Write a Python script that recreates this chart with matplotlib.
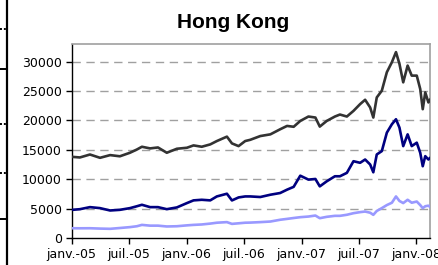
import matplotlib
matplotlib.use("Agg")
import matplotlib.pyplot as plt
import matplotlib.dates as mdates
from matplotlib.lines import Line2D
import numpy as np

# dates of the readings
dates = [
    "2005-01-03", "2005-01-27", "2005-02-28", "2005-04-01", "2005-05-03",
    "2005-06-03", "2005-07-05", "2005-07-27", "2005-08-12", "2005-09-07",
    "2005-10-02", "2005-10-30", "2005-12-01", "2006-01-02", "2006-01-23",
    "2006-02-18", "2006-03-17", "2006-04-07", "2006-05-09", "2006-05-25",
    "2006-06-15", "2006-07-06", "2006-07-22", "2006-08-23", "2006-09-24",
    "2006-10-25", "2006-11-16", "2006-12-07", "2006-12-28", "2007-01-23",
    "2007-02-14", "2007-02-28", "2007-03-22", "2007-04-17", "2007-05-03",
    "2007-05-25", "2007-06-15", "2007-07-06", "2007-07-22", "2007-08-07",
    "2007-08-17", "2007-08-28", "2007-09-13", "2007-09-29", "2007-10-15",
    "2007-10-28", "2007-11-08", "2007-11-20", "2007-12-04", "2007-12-17",
    "2008-01-02", "2008-01-13", "2008-01-21", "2008-01-29", "2008-02-08",
    "2008-02-13",
]

dark_series = [
    13800, 13700, 14200, 13640, 14100, 13900, 14500, 15050, 15520, 15240,
    15400, 14500, 15180, 15350, 15750, 15520, 15920, 16490, 17240, 16090,
    15630, 16490, 16700, 17340, 17630, 18490, 19060, 18920, 19910, 20660,
    20490, 18950, 19910, 20660, 21000, 20660, 21620, 22770, 23510, 22200,
    20490, 23910, 25050, 28200, 29900, 31620, 29620, 26480, 29330, 27620,
    27620, 25340, 21910, 24770, 23060, 23500,
]

navy_series = [
    4790, 4900, 5250, 5080, 4680, 4790, 5080, 5400, 5650, 5250,
    5250, 4900, 5200, 5940, 6400, 6500, 6400, 7070, 7530, 6390,
    6900, 7070, 7070, 6970, 7360, 7650, 8220, 8700, 10600, 9930,
    10040, 8780, 9640, 10500, 10500, 11080, 13060, 12790, 13350, 12500,
    11180, 14210, 14780, 17920, 19350, 20200, 18780, 15630, 17630, 15630,
    16210, 14500, 12210, 13920, 13350, 13600,
]

light_series = [
    1660, 1650, 1660, 1600, 1560, 1700, 1850, 2000, 2230, 2100,
    2100, 1960, 2000, 2150, 2230, 2300, 2450, 2600, 2700, 2400,
    2500, 2600, 2620, 2700, 2800, 3100, 3250, 3400, 3540, 3650,
    3820, 3370, 3600, 3770, 3770, 3950, 4220, 4400, 4500, 4300,
    3940, 4600, 5080, 5600, 6000, 7070, 6300, 5940, 6500, 6000,
    6200, 5600, 5080, 5400, 5500, 5300,
]

tick_dates = ["2005-01-01", "2005-07-01", "2006-01-01", "2006-07-01",
              "2007-01-01", "2007-07-01", "2008-01-01"]
tick_labels = ["janv.-05", "juil.-05", "janv.-06", "juil.-06",
               "janv.-07", "juil.-07", "janv.-08"]
y_ticks = [0, 5000, 10000, 15000, 20000, 25000, 30000]

x = np.array(dates, dtype="datetime64[D]")

fig = plt.figure(figsize=(4.38, 2.65), dpi=100)
ax = fig.add_axes([0.1637, 0.1019, 0.8180, 0.7321])

ax.plot(x, light_series, color="#9999ff", lw=1.9, zorder=3)
ax.plot(x, navy_series, color="#000080", lw=1.9, zorder=4)
ax.plot(x, dark_series, color="#333333", lw=1.9, zorder=5)

ax.set_ylim(0, 33000)
ax.set_xlim(np.datetime64("2005-01-01"), np.datetime64("2008-02-13"))
ax.set_yticks(y_ticks)
ax.set_xticks(np.array(tick_dates, dtype="datetime64[D]"))
ax.set_xticklabels(tick_labels)

for yv in y_ticks[1:]:
    ax.axhline(yv, color="#a0a0a0", lw=1.0, dashes=(6, 4), zorder=1)

ax.tick_params(direction="out", length=4, width=1, pad=3,
               labelsize=9, colors="black")
for side in ["top", "right"]:
    ax.spines[side].set_color("#a0a0a0")
    ax.spines[side].set_linewidth(1.2)
for side in ["left", "bottom"]:
    ax.spines[side].set_color("black")
    ax.spines[side].set_linewidth(1.0)

fig.text(0.532, 0.915, "Hong Kong", ha="center", va="center",
         fontsize=15, fontweight="bold", family="Liberation Sans")

# bits of the neighbouring object on the left edge
fig.add_artist(Line2D([7 / 438, 7 / 438], [0, 1], color="black", lw=1.6))
for yy in [69, 219]:
    fig.add_artist(Line2D([0, 7 / 438], [1 - yy / 265] * 2, color="black", lw=1.4))
for yy in [29, 124, 173]:
    fig.add_artist(Line2D([0, 7 / 438], [1 - yy / 265] * 2, color="black",
                          lw=1.4, dashes=(1, 1)))

fig.savefig("out.png", dpi=100)
